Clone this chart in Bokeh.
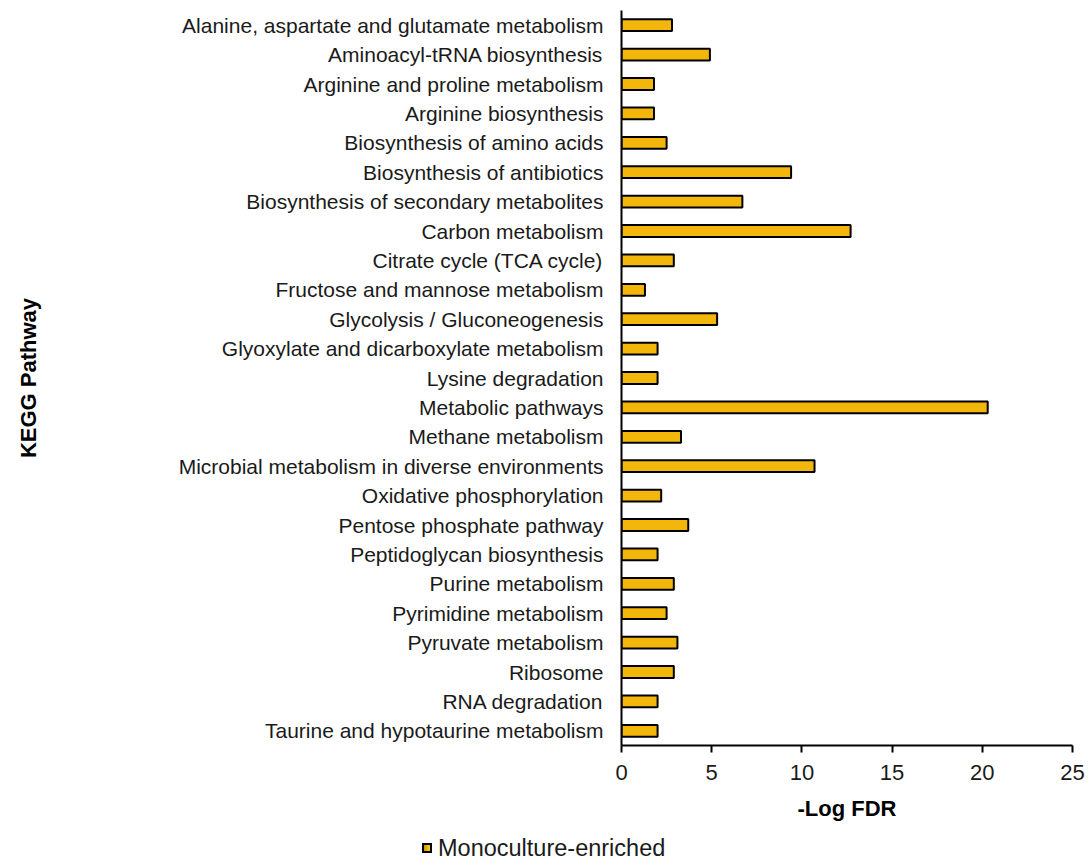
from bokeh.plotting import figure
from bokeh.layouts import column
from bokeh.models import FactorRange, Range1d, ColumnDataSource, FixedTicker, Div
from bokeh.embed import file_html
from bokeh.resources import INLINE

pathways = [
    "Alanine, aspartate and glutamate metabolism",
    "Aminoacyl-tRNA biosynthesis",
    "Arginine and proline metabolism",
    "Arginine biosynthesis",
    "Biosynthesis of amino acids",
    "Biosynthesis of antibiotics",
    "Biosynthesis of secondary metabolites",
    "Carbon metabolism",
    "Citrate cycle (TCA cycle)",
    "Fructose and mannose metabolism",
    "Glycolysis / Gluconeogenesis",
    "Glyoxylate and dicarboxylate metabolism",
    "Lysine degradation",
    "Metabolic pathways",
    "Methane metabolism",
    "Microbial metabolism in diverse environments",
    "Oxidative phosphorylation",
    "Pentose phosphate pathway",
    "Peptidoglycan biosynthesis",
    "Purine metabolism",
    "Pyrimidine metabolism",
    "Pyruvate metabolism",
    "Ribosome",
    "RNA degradation",
    "Taurine and hypotaurine metabolism",
]
neg_log_fdr = [2.8, 4.9, 1.8, 1.8, 2.5, 9.4, 6.7, 12.7, 2.9, 1.3, 5.3, 2.0, 2.0,
               20.3, 3.3, 10.7, 2.2, 3.7, 2.0, 2.9, 2.5, 3.1, 2.9, 2.0, 2.0]
series_name = "Monoculture-enriched"
x_ticks = [0, 5, 10, 15, 20, 25]

FONT = "Liberation Sans"
TXT = "#1a1a1a"
BAR_FILL = "#F3B60A"

source = ColumnDataSource(dict(y=pathways, x=neg_log_fdr))

p = figure(
    width=1085, height=834,
    y_range=FactorRange(factors=list(reversed(pathways))),
    x_range=Range1d(0, 25),
    output_backend="svg", toolbar_location=None,
    min_border_left=621, min_border_right=13, min_border_top=10, min_border_bottom=89,
)
p.outline_line_color = None
p.background_fill_color = "white"
p.border_fill_color = "white"
p.xgrid.visible = False
p.ygrid.visible = False

bars = p.hbar(y="y", right="x", left=0, height=0.4, source=source,
              fill_color=BAR_FILL, line_color="black", line_width=2)

# y axis
ya = p.yaxis[0]
ya.axis_line_color = "black"
ya.axis_line_width = 2
ya.major_tick_out = 0
ya.major_tick_in = 0
ya.minor_tick_out = 0
ya.major_label_standoff = 18
ya.major_label_text_font = FONT
ya.major_label_text_font_size = "21px"
ya.major_label_text_color = TXT
ya.axis_label = "KEGG Pathway"
ya.axis_label_text_font = FONT
ya.axis_label_text_font_size = "22px"
ya.axis_label_text_font_style = "bold"
ya.axis_label_text_color = "black"
ya.axis_label_standoff = 135

# x axis
xa = p.xaxis[0]
xa.ticker = FixedTicker(ticks=x_ticks)
xa.axis_line_color = "black"
xa.axis_line_width = 2
xa.major_tick_line_color = "black"
xa.major_tick_line_width = 2
xa.major_tick_out = 7
xa.major_tick_in = 0
xa.minor_tick_line_color = None
xa.major_label_standoff = 12
xa.major_label_text_font = FONT
xa.major_label_text_font_size = "22px"
xa.major_label_text_color = TXT
xa.axis_label = "-Log FDR"
xa.axis_label_text_font = FONT
xa.axis_label_text_font_size = "22px"
xa.axis_label_text_font_style = "bold"
xa.axis_label_text_color = "black"
xa.axis_label_standoff = 13

# legend strip below the chart (HTML, real text)
legend_html = (
    f'<div style="display:flex;align-items:center;margin-left:422px;'
    f'font-family:\'{FONT}\';font-size:23.5px;line-height:28px;color:{TXT};white-space:nowrap">'
    f'<span style="display:inline-block;width:10px;height:10px;border:2px solid black;'
    f'background:linear-gradient(to right,#C99600,#FFCB2A);margin-right:6px"></span>'
    f'{series_name}</div>'
)
leg = Div(text=legend_html, width=1085, height=28, margin=0)

layout = column(p, leg, spacing=0)
open("out.html", "w").write(file_html(layout, INLINE))
